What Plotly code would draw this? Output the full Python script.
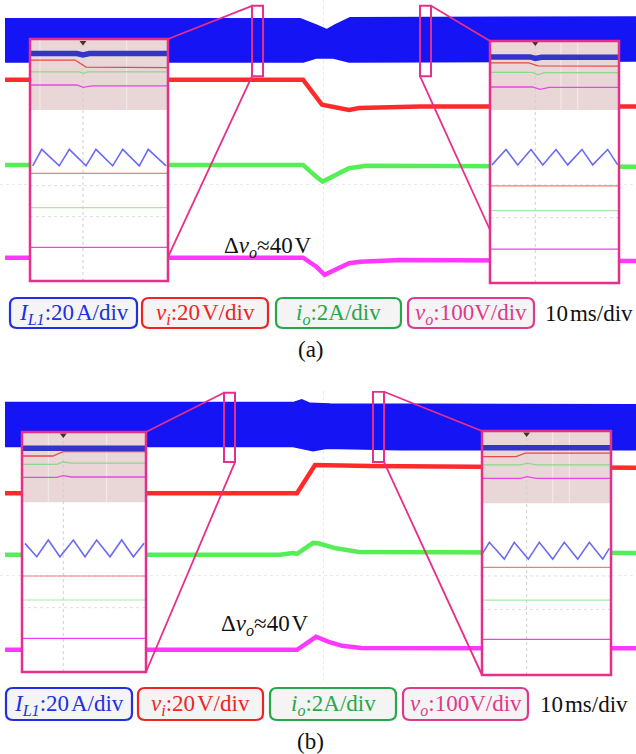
import plotly.graph_objects as go

W, H = 636, 754

# ---------------- panel (a): main scope traces ----------------
# time in ms (10 ms/div), amplitude in screen divisions
a_il_top_t = [-50, -3.6, -1.1, 0.6, 1.9, 4.25, 50]
a_il_top = [4.58, 4.58, 4.41, 4.28, 4.41, 4.61, 4.63]
a_il_bot_t = [-50, -3.1, -1.1, 1.6, 4.1, 50]
a_il_bot = [3.39, 3.39, 3.50, 3.50, 3.39, 3.42]
a_vi_t = [-50, -3.14, -0.16, 4.09, 5.66, 15.25, 50]
a_vi = [2.90, 2.90, 2.21, 2.07, 2.12, 2.16, 2.16]
a_io_t = [-50, -3.14, -1.10, -0.05, 4.09, 6.76, 50]
a_io = [0.55, 0.55, 0.23, 0.09, 0.46, 0.53, 0.50]
a_vo_t = [-50, -3.14, -1.10, 0.24, 4.09, 5.82, 12.1, 50]
a_vo = [-2.01, -2.01, -2.25, -2.48, -2.16, -2.12, -2.07, -2.10]

# ---------------- panel (b): main scope traces ----------------
b_il_top_t = [-50, -4.72, -3.35, -2.04, 1.1, 50]
b_il_top = [4.78, 4.78, 4.86, 4.76, 4.74, 4.72]
b_il_bot_t = [-50, -4.72, -1.57, 0.58, 12.1, 50]
b_il_bot = [3.57, 3.57, 3.45, 3.52, 3.48, 3.48]
b_vi_t = [-50, -4.09, -1.26, 7.39, 50]
b_vi = [2.28, 2.28, 3.06, 3.03, 2.98]
b_io_t = [-50, -6.76, -4.72, -4.09, -1.57, -0.79, 2.04, 5.66, 50]
b_io = [0.58, 0.58, 0.63, 0.61, 0.91, 0.90, 0.76, 0.66, 0.63]
b_vo_t = [-50, -4.09, -1.10, 0.9, 3.0, 6.0, 50]
b_vo = [-2.04, -2.04, -1.68, -1.82, -1.93, -1.99, -2.00]

# zoom windows on the main screens: [t0, t1, d0, d1]
a_win_left = [-11.16, -9.43, 3.00, 4.94]
a_win_right = [15.25, 16.98, 3.00, 4.94]
b_win_left = [-15.57, -13.84, 3.14, 5.05]
b_win_right = [7.86, 9.59, 3.14, 5.08]

# ---------------- zoomed views (local 0..100 units) ----------------
aL_tri_x = [1.96, 8.5, 21.2, 28.5, 40.6, 47.8, 59.9, 67.2, 79.2, 85.7, 98.6]
aL_tri_y = [47.6, 54.4, 47.6, 54.4, 47.6, 54.4, 47.6, 54.4, 47.6, 54.4, 47.6]
aL_band_x = [0, 34, 38.4, 43, 100]
aL_band_y = [94.0, 94.0, 93.4, 94.0, 94.0]
aL_red_x = [0, 32.6, 40.6, 100]
aL_red_y = [91.3, 91.3, 88.4, 88.2]
aL_grn_x = [0, 36, 38.4, 42, 100]
aL_grn_y = [86.4, 86.4, 85.8, 86.4, 86.4]
aL_mag_x = [0, 34, 38.4, 45, 100]
aL_mag_y = [81.0, 81.0, 80.0, 80.6, 80.6]
aL_levels = [44.5, 30.3, 13.9]          # lower red, green, magenta
aL_grid = [39.4, 26.6]
aL_trig = [38.4, 98.6]
aL_marks = [7.2, 70.1]
aL_shade = 70.7

aR_tri_x = [1.55, 12.4, 21.5, 31.8, 40.9, 51.2, 60.2, 71.3, 79.6, 91.2, 99.0]
aR_tri_y = [48.8, 55.2, 48.8, 55.2, 48.8, 55.2, 48.8, 55.2, 48.8, 55.2, 48.8]
aR_band_x = [0, 31, 35.1, 40, 100]
aR_band_y = [93.4, 93.4, 92.8, 93.3, 93.3]
aR_red_x = [0, 30.2, 37.2, 100]
aR_red_y = [91.0, 91.0, 89.7, 89.6]
aR_grn_x = [0, 33, 37.2, 42, 100]
aR_grn_y = [87.0, 87.0, 86.0, 86.9, 86.9]
aR_mag_x = [0, 33, 38.8, 46, 100]
aR_mag_y = [81.0, 81.0, 80.0, 80.8, 80.8]
aR_levels = [40.1, 29.9, 14.0]
aR_grid = [40.5, 27.0]
aR_trig = [35.1, 99.2]
aR_marks = [55.0, 68.0]
aR_shade = 71.5

bL_tri_x = [2.4, 11.9, 21.2, 30.6, 41.4, 50.8, 60.2, 71.0, 80.4, 89.8, 98.4]
bL_tri_y = [53.6, 48.0, 55.0, 48.0, 55.0, 48.0, 55.0, 48.0, 55.0, 48.0, 53.6]
bL_band_x = [0, 100]
bL_band_y = [93.25, 93.25]
bL_red_x = [0, 25.0, 33.1, 100]
bL_red_y = [90.0, 90.0, 91.8, 91.8]
bL_grn_x = [0, 28, 33.1, 40, 100]
bL_grn_y = [86.5, 86.5, 87.5, 87.0, 87.0]
bL_mag_x = [0, 28, 33.1, 40, 100]
bL_mag_y = [81.1, 81.1, 81.8, 81.25, 81.25]
bL_levels = [40.0, 30.0, 14.0]
bL_grid = [40.0, 26.8]
bL_trig = [33.3, 98.75]
bL_marks = [21.2, 68.3]
bL_shade = 70.7

bR_tri_x = [0.5, 5.7, 17.3, 25.0, 35.9, 44.4, 54.8, 63.8, 74.2, 83.2, 93.6, 98.7]
bR_tri_y = [49.9, 54.4, 47.5, 54.4, 47.5, 54.4, 47.5, 54.4, 47.5, 54.4, 47.5, 51.9]
bR_band_x = [0, 100]
bR_band_y = [93.1, 93.1]
bR_red_x = [0, 26.4, 33.6, 100]
bR_red_y = [89.5, 89.5, 90.9, 90.9]
bR_grn_x = [0, 30, 35, 42, 100]
bR_grn_y = [86.1, 86.1, 86.8, 86.1, 86.1]
bR_mag_x = [0, 30, 35, 42, 100]
bR_mag_y = [80.6, 80.6, 81.3, 80.6, 80.6]
bR_levels = [44.1, 30.7, 14.6]
bR_grid = [40.6, 26.9]
bR_trig = [34.6, 98.8]
bR_marks = [54.8, 67.7]
bR_shade = 70.4

legend_labels = [
    "<i>I</i><sub><i>L1</i></sub>:20\u200aA/div",
    "<i>v</i><sub><i>i</i></sub>:20\u200aV/div",
    "<i>i</i><sub><i>o</i></sub>:2A/div",
    "<i>v</i><sub><i>o</i></sub>:100V/div",
]
timebase_label = "10\u200ams/div"
delta_label = "\u0394<i>v</i><sub><i>o</i></sub>\u224840\u200aV"
captions = ["(a)", "(b)"]

# ---------------- styling / layout geometry ----------------
FONT = "Liberation Serif"
BLUE, RED, GREEN, MAG = "#1414f4", "#ff2b2b", "#56ee56", "#ff38ff"
PINK = "#e62e8a"
LEG_COLORS = ["#2030e0", "#ee2424", "#26a84a", "#de3a8c"]
XR = [-50.79, 49.21]
YR = [-2.9, 5.1]
SCREEN = {"a": (0, 290), "b": (391, 681)}
INSET_BOX = {  # left, top, right, bottom in pixels
    "aL": (30, 39, 168, 281), "aR": (490, 41, 619, 283),
    "bL": (22, 432, 146, 672), "bR": (482, 431, 611, 675),
}
LEG_ROW = {"a": ((10, 137), (142, 268), (276, 401), (408, 534), 298, 328, 589),
           "b": ((6, 132), (138, 263), (270, 396), (403, 528), 688, 720, 584)}

fig = go.Figure()


def px(xp):
    return xp / W


def py(yp):
    return 1 - yp / H


def line(x, y, color, width, xa, ya, dash=None, fill=None, fillcolor=None, mode="lines"):
    fig.add_trace(go.Scatter(
        x=x, y=y, mode=mode, xaxis=xa, yaxis=ya, hoverinfo="skip", showlegend=False,
        line=dict(color=color, width=width, dash=dash), fill=fill, fillcolor=fillcolor))


def add_screen(sfx, top_t, top, bot_t, bot, vi_t, vi, io_t, io, vo_t, vo):
    xa, ya = "x" + sfx, "y" + sfx
    line(top_t + bot_t[::-1], top + bot[::-1], BLUE, 1.5, xa, ya,
         fill="toself", fillcolor=BLUE)
    line(vi_t, vi, RED, 4.5, xa, ya)
    line(io_t, io, GREEN, 4.5, xa, ya)
    line(vo_t, vo, MAG, 4.5, xa, ya)


add_screen("", a_il_top_t, a_il_top, a_il_bot_t, a_il_bot, a_vi_t, a_vi, a_io_t, a_io, a_vo_t, a_vo)
add_screen("2", b_il_top_t, b_il_top, b_il_bot_t, b_il_bot, b_vi_t, b_vi, b_io_t, b_io, b_vo_t, b_vo)


def add_inset(idx, tri_x, tri_y, band_x, band_y, red_x, red_y, grn_x, grn_y, mag_x, mag_y,
              levels, grid, trig, marks, shade):
    xa, ya = "x%d" % idx, "y%d" % idx
    full = [0, 100, 100, 0, 0]
    line(full, [0, 0, 100, 100, 0], "white", 0, xa, ya, fill="toself", fillcolor="white")
    line(full, [shade, shade, 100, 100, shade], "#e9d6d6", 0, xa, ya,
         fill="toself", fillcolor="#e9d6d6")
    for g in grid:
        line([0, 100], [g, g], "#dedede", 1, xa, ya, dash="dot")
    for m in marks:
        line([m, m], [shade, 100], "rgba(255,255,255,0.55)", 1, xa, ya)
    line([trig[0], trig[0]], [0, 100], "#cfcfcf", 1, xa, ya, dash="dot")
    line(band_x, band_y, "#3434c6", 5.5, xa, ya)
    line(red_x, red_y, "#ec4848", 1.3, xa, ya)
    line(grn_x, grn_y, "#8cd88c", 1.3, xa, ya)
    line(mag_x, mag_y, "#e848e8", 1.3, xa, ya)
    fig.add_trace(go.Scatter(x=[trig[0]], y=[trig[1]], mode="markers", xaxis=xa, yaxis=ya,
                             hoverinfo="skip", showlegend=False,
                             marker=dict(symbol="triangle-down", size=6, color="#4a2e22")))
    line(tri_x, tri_y, "#6c6cf0", 1.6, xa, ya)
    line([0, 100], [levels[0], levels[0]], "#f07c7c", 1.2, xa, ya)
    line([0, 100], [levels[1], levels[1]], "#a4eaa4", 1.2, xa, ya)
    line([0, 100], [levels[2], levels[2]], "#ec44ec", 1.4, xa, ya)


add_inset(3, aL_tri_x, aL_tri_y, aL_band_x, aL_band_y, aL_red_x, aL_red_y, aL_grn_x, aL_grn_y,
          aL_mag_x, aL_mag_y, aL_levels, aL_grid, aL_trig, aL_marks, aL_shade)
add_inset(4, aR_tri_x, aR_tri_y, aR_band_x, aR_band_y, aR_red_x, aR_red_y, aR_grn_x, aR_grn_y,
          aR_mag_x, aR_mag_y, aR_levels, aR_grid, aR_trig, aR_marks, aR_shade)
add_inset(5, bL_tri_x, bL_tri_y, bL_band_x, bL_band_y, bL_red_x, bL_red_y, bL_grn_x, bL_grn_y,
          bL_mag_x, bL_mag_y, bL_levels, bL_grid, bL_trig, bL_marks, bL_shade)
add_inset(6, bR_tri_x, bR_tri_y, bR_band_x, bR_band_y, bR_red_x, bR_red_y, bR_grn_x, bR_grn_y,
          bR_mag_x, bR_mag_y, bR_levels, bR_grid, bR_trig, bR_marks, bR_shade)

# ---------------- axes ----------------
axis_main = dict(range=XR, showticklabels=False, ticks="", zeroline=False, showline=False,
                 tickvals=[0], showgrid=True, gridcolor="#eaeaea", griddash="dot", fixedrange=True)
yaxis_main = dict(range=YR, showticklabels=False, ticks="", zeroline=False, showline=False,
                  tickvals=[0], showgrid=True, gridcolor="#eaeaea", griddash="dot", fixedrange=True)
layout_axes = {
    "xaxis": dict(axis_main, domain=[0, 1], anchor="y"),
    "yaxis": dict(yaxis_main, domain=[py(SCREEN["a"][1]), py(SCREEN["a"][0])], anchor="x"),
    "xaxis2": dict(axis_main, domain=[0, 1], anchor="y2"),
    "yaxis2": dict(yaxis_main, domain=[py(SCREEN["b"][1]), py(SCREEN["b"][0])], anchor="x2"),
}
for idx, key in zip((3, 4, 5, 6), ("aL", "aR", "bL", "bR")):
    l, t, r, b = INSET_BOX[key]
    layout_axes["xaxis%d" % idx] = dict(domain=[px(l), px(r)], range=[0, 100], visible=False,
                                        anchor="y%d" % idx, fixedrange=True)
    layout_axes["yaxis%d" % idx] = dict(domain=[py(b), py(t)], range=[0, 100], visible=False,
                                        anchor="x%d" % idx, fixedrange=True)


def to_paper(panel, t, d):
    top, bot = SCREEN[panel]
    xf = (t - XR[0]) / (XR[1] - XR[0])
    yp = top + (YR[1] - d) / (YR[1] - YR[0]) * (bot - top)
    return xf, py(yp)


shapes = []
# inset frames
for key, (l, t, r, b) in INSET_BOX.items():
    shapes.append(dict(type="rect", xref="paper", yref="paper", x0=px(l), x1=px(r),
                       y0=py(b), y1=py(t), line=dict(color=PINK, width=2.5), layer="above"))
# zoom windows on the screens
for panel, ref, win in (("a", "", a_win_left), ("a", "", a_win_right),
                        ("b", "2", b_win_left), ("b", "2", b_win_right)):
    shapes.append(dict(type="rect", xref="x" + ref, yref="y" + ref, x0=win[0], x1=win[1],
                       y0=win[2], y1=win[3], line=dict(color=PINK, width=2), layer="above"))

# connector lines: (panel, window, window corner (t-index, d-index), inset pixel anchor)
connectors = [
    ("a", a_win_left, (0, 3), (168, 39)), ("a", a_win_left, (0, 2), (168, 257)),
    ("a", a_win_right, (1, 3), (490, 41)), ("a", a_win_right, (0, 2), (490, 230)),
    ("b", b_win_left, (0, 3), (146, 432)), ("b", b_win_left, (1, 2), (146, 672)),
    ("b", b_win_right, (1, 3), (482, 431)), ("b", b_win_right, (1, 2), (482, 675)),
]
for panel, win, (ti, di), (ax, ay) in connectors:
    x0, y0 = to_paper(panel, win[ti], win[di])
    shapes.append(dict(type="line", xref="paper", yref="paper", x0=x0, y0=y0,
                       x1=px(ax), y1=py(ay), line=dict(color=PINK, width=1.8), layer="above"))


def rounded(x0, y0, x1, y1, r):
    pts = [("M", x0 + r, y0), ("L", x1 - r, y0), ("Q", x1, y0, x1, y0 + r), ("L", x1, y1 - r),
           ("Q", x1, y1, x1 - r, y1), ("L", x0 + r, y1), ("Q", x0, y1, x0, y1 - r),
           ("L", x0, y0 + r), ("Q", x0, y0, x0 + r, y0)]
    out = []
    for p in pts:
        cmd, vals = p[0], p[1:]
        coords = []
        for i in range(0, len(vals), 2):
            coords.append("%.5f,%.5f" % (px(vals[i]), py(vals[i + 1])))
        out.append(cmd + " ".join(coords))
    return " ".join(out) + " Z"


annotations = []
for panel in ("a", "b"):
    row = LEG_ROW[panel]
    boxes, y0, y1, tb_x = row[:4], row[4], row[5], row[6]
    for (bx0, bx1), label, col in zip(boxes, legend_labels, LEG_COLORS):
        shapes.append(dict(type="path", xref="paper", yref="paper",
                           path=rounded(bx0, y0, bx1, y1, 7), fillcolor="#f4f4f4",
                           line=dict(color=col, width=2.2), layer="above"))
        annotations.append(dict(x=px((bx0 + bx1) / 2), y=py((y0 + y1) / 2 + 1), xref="paper",
                                yref="paper", text=label, showarrow=False,
                                font=dict(family=FONT, size=23, color=col),
                                xanchor="center", yanchor="middle"))
    annotations.append(dict(x=px(tb_x), y=py((y0 + y1) / 2), xref="paper", yref="paper",
                            text=timebase_label, showarrow=False,
                            font=dict(family=FONT, size=23, color="#111111"),
                            xanchor="center", yanchor="middle"))

for (cx, cy) in ((268, 247), (265, 625)):
    annotations.append(dict(x=px(cx), y=py(cy), xref="paper", yref="paper", text=delta_label,
                            showarrow=False, font=dict(family=FONT, size=23, color="#111111"),
                            xanchor="center", yanchor="middle"))
for cap, (cx, cy) in zip(captions, ((311, 349), (310, 741))):
    annotations.append(dict(x=px(cx), y=py(cy), xref="paper", yref="paper", text=cap,
                            showarrow=False, font=dict(family=FONT, size=23, color="#111111"),
                            xanchor="center", yanchor="middle"))

fig.update_layout(
    width=W, height=H, margin=dict(l=0, r=0, t=0, b=0),
    paper_bgcolor="white", plot_bgcolor="white", showlegend=False,
    shapes=shapes, annotations=annotations, **layout_axes)

fig.write_html("out.html")
